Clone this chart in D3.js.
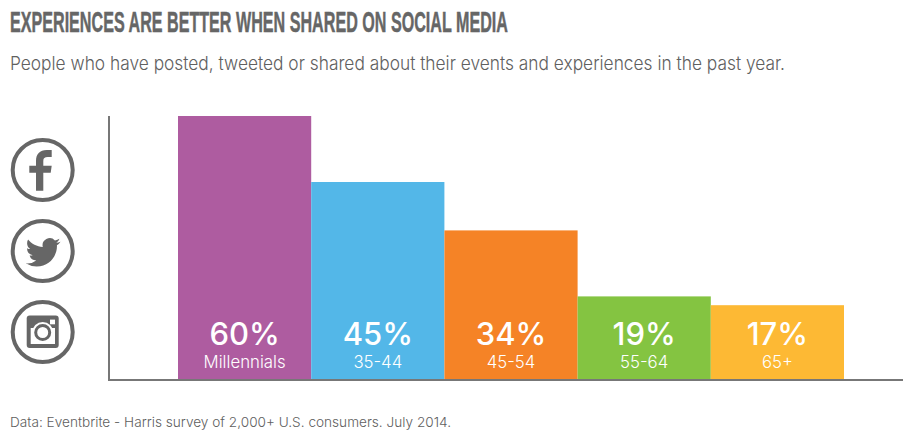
<!DOCTYPE html>
<html lang="en">
	<head>
		<meta charset="utf-8">
		<title>Experiences are better when shared on social media</title>
		<script src="https://d3js.org/d3.v7.min.js"></script>
		<style type="text/css">
			html, body { margin: 0; padding: 0; background: #fff; }
			svg { display: block; }
			text { font-family: Inter, "Open Sans", sans-serif; }
		</style>
	</head>
	<body>
		<script type="text/javascript">

			// Data
			var categories = ["Millennials", "35-44", "45-54", "55-64", "65+"];
			var values = [60, 45, 34, 19, 17];
			var colors = ["#ae5ca0", "#53b7e8", "#f58326", "#84c441", "#fdb934"];

			var titleText = "EXPERIENCES ARE BETTER WHEN SHARED ON SOCIAL MEDIA";
			var subtitleText = "People who have posted, tweeted or shared about their events and experiences in the past year.";
			var sourceText = "Data: Eventbrite - Harris survey of 2,000+ U.S. consumers. July 2014.";

			//Width and height
			var w = 916;
			var h = 438;
			var grey = "#666666";
			var axisX = 109;
			var axisEnd = 903;

			var svg = d3.select("body")
						.append("svg")
						.attr("width", w)
						.attr("height", h);

			var x = d3.scaleBand()
						.domain(categories)
						.range([178, 844]);

			var y = d3.scaleLinear()
						.domain([0, 60])
						.range([380, 116]);

			// Title block, squeezed sideways to the width of the original headline
			var title = svg.append("text")
			   .text(titleText)
			   .style("font-family", "'Liberation Sans Narrow', 'Liberation Sans', sans-serif")
			   .attr("font-weight", 700)
			   .attr("font-size", "30px")
			   .attr("fill", grey)
			   .attr("stroke", grey)
			   .attr("stroke-width", 0.5);
			title.attr("transform", "translate(10,31.5) scale(" + (498 / title.node().getComputedTextLength()) + ",1)");

			svg.append("text")
			   .text(subtitleText)
			   .attr("x", 10)
			   .attr("y", 70)
			   .attr("textLength", 775)
			   .attr("lengthAdjust", "spacingAndGlyphs")
			   .attr("font-weight", 300)
			   .attr("font-size", "18.5px")
			   .attr("fill", "#606060");

			// Bars
			svg.selectAll("rect.bar")
			   .data(values)
			   .enter()
			   .append("rect")
			   .attr("class", "bar")
			   .attr("x", function(d, i) { return x(categories[i]); })
			   .attr("y", function(d) { return y(d); })
			   .attr("width", x.bandwidth())
			   .attr("height", function(d) { return y(0) - y(d); })
			   .attr("fill", function(d, i) { return colors[i]; });

			// Axis lines
			svg.append("line")
			   .attr("x1", axisX).attr("x2", axisX)
			   .attr("y1", y(60)).attr("y2", y(0) + 1)
			   .attr("stroke", "#777").attr("stroke-width", 2);

			svg.append("line")
			   .attr("x1", axisX - 1).attr("x2", axisEnd)
			   .attr("y1", y(0)).attr("y2", y(0))
			   .attr("stroke", "#777").attr("stroke-width", 2);

			// Bar labels
			svg.selectAll("text.pct")
			   .data(values)
			   .enter()
			   .append("text")
			   .attr("class", "pct")
			   .text(function(d) { return d + "%"; })
			   .attr("text-anchor", "middle")
			   .attr("x", function(d, i) { return x(categories[i]) + x.bandwidth() / 2; })
			   .attr("y", 345)
			   .attr("font-weight", 500)
			   .attr("font-size", "31px")
			   .attr("fill", "#fff");

			svg.selectAll("text.cat")
			   .data(categories)
			   .enter()
			   .append("text")
			   .attr("class", "cat")
			   .text(function(d) { return d; })
			   .attr("text-anchor", "middle")
			   .attr("x", function(d) { return x(d) + x.bandwidth() / 2; })
			   .attr("y", 368)
			   .attr("font-weight", 300)
			   .attr("font-size", "16.8px")
			   .attr("fill", "#fff");

			// Source line
			svg.append("text")
			   .text(sourceText)
			   .attr("x", 10)
			   .attr("y", 427)
			   .attr("textLength", 441)
			   .attr("lengthAdjust", "spacingAndGlyphs")
			   .attr("font-weight", 300)
			   .attr("font-size", "13.5px")
			   .attr("fill", "#606060");

			// Social icons
			var iconCentres = [170, 251, 332];
			var icons = svg.selectAll("g.icon")
			   .data(iconCentres)
			   .enter()
			   .append("g")
			   .attr("class", "icon")
			   .attr("transform", function(d) { return "translate(42.7," + d + ")"; });

			icons.append("circle")
			   .attr("r", 30)
			   .attr("fill", "none")
			   .attr("stroke", grey)
			   .attr("stroke-width", 4);

			// facebook
			d3.select(icons.nodes()[0]).append("path")
			   .attr("d", "M-6.7 20.7V2.7H-13.4V-4.3H-6.7V-9C-6.7 -16 -3 -20 4 -20H9V-13H5C2 -13 .6 -12 .6 -9V-4.3H9L8 2.7H.6V20.7Z")
			   .attr("fill", grey);

			// twitter
			d3.select(icons.nodes()[1]).append("path")
			   .attr("transform", "translate(-17,-16) scale(1.45)")
			   .attr("d", "M23.953 4.57a10 10 0 01-2.825.775 4.958 4.958 0 002.163-2.723c-.951.555-2.005.959-3.127 1.184a4.92 4.92 0 00-8.384 4.482C7.69 8.095 4.067 6.13 1.64 3.162a4.822 4.822 0 00-.666 2.475c0 1.71.87 3.213 2.188 4.096a4.904 4.904 0 01-2.228-.616v.06a4.923 4.923 0 003.946 4.827 4.996 4.996 0 01-2.212.085 4.936 4.936 0 004.604 3.417 9.867 9.867 0 01-6.102 2.105c-.39 0-.779-.023-1.17-.067a13.995 13.995 0 007.557 2.209c9.053 0 13.998-7.496 13.998-13.985 0-.21 0-.42-.015-.63A9.935 9.935 0 0024 4.59z")
			   .attr("fill", grey);

			// instagram
			var insta = d3.select(icons.nodes()[2]);
			insta.append("rect")
			   .attr("x", -16).attr("y", -16.5)
			   .attr("width", 32).attr("height", 32.5)
			   .attr("rx", 3)
			   .attr("fill", grey);
			insta.append("rect")
			   .attr("x", -12).attr("y", -4)
			   .attr("width", 24.3).attr("height", 16)
			   .attr("fill", "#fff");
			insta.append("rect")
			   .attr("x", 7.3).attr("y", -12.4)
			   .attr("width", 5).attr("height", 4.7)
			   .attr("fill", "#fff");
			insta.append("circle")
			   .attr("cy", 0.5)
			   .attr("r", 10.5)
			   .attr("fill", "#fff");
			insta.append("circle")
			   .attr("cy", 0.5)
			   .attr("r", 7)
			   .attr("fill", "#fff")
			   .attr("stroke", grey)
			   .attr("stroke-width", 3);

		</script>
	</body>
</html>
